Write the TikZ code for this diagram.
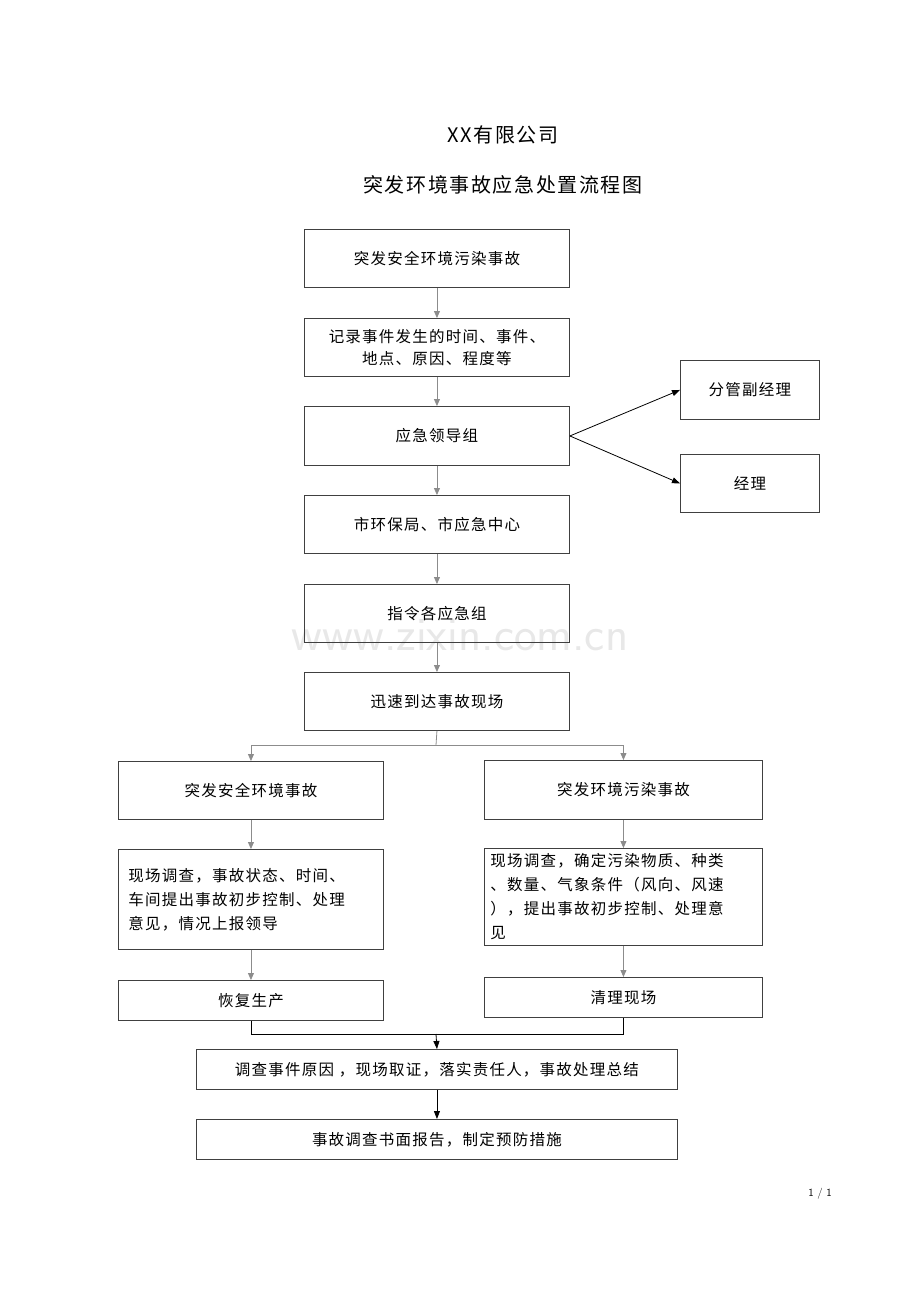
\documentclass[tikz,border=0pt]{standalone}
\usepackage{fontspec}
\newfontfamily\cjk[LetterSpace=8]{Noto Sans CJK SC}
\usetikzlibrary{arrows.meta}
\begin{document}
\begin{tikzpicture}[x=1pt,y=-1pt,
  box/.style={draw=black!75,line width=0.9pt,inner sep=0pt,font=\cjk\fontsize{15.5}{22}\selectfont},
  ga/.style={draw=gray!90,line width=0.8pt,-{Triangle[length=7pt,width=6pt]}},
  ba/.style={draw=black,line width=0.8pt,-{Triangle[length=8pt,width=6pt]}},
  gl/.style={draw=gray!90,line width=0.8pt}]
\useasboundingbox (0,0) rectangle (920,1302);
\newcommand{\bx}[6]{\node[box,minimum width=#3-#2,minimum height=#5-#4,anchor=north west,align=center] (#1) at (#2,#4) {#6};}
\node[font=\cjk\fontsize{20}{24}\selectfont] (t1) at (503,135) {XX有限公司};
\node[font=\cjk\fontsize{20}{24}\selectfont] (t2) at (503,185) {突发环境事故应急处置流程图};
\node[font=\fontsize{48}{50}\selectfont\sffamily,text=gray!18] (wm) at (460,635) {www.zixin.com.cn};
\bx{a1}{304}{569}{229}{287}{突发安全环境污染事故}
\bx{a2}{304}{569}{318}{376}{记录事件发生的时间、事件、\\地点、原因、程度等}
\bx{a3}{304}{569}{406}{465}{应急领导组}
\bx{a4}{304}{569}{495}{553}{市环保局、市应急中心}
\bx{a5}{304}{569}{584}{642}{指令各应急组}
\bx{a6}{304}{569}{672}{730}{迅速到达事故现场}
\bx{m1}{680}{819}{360}{419}{分管副经理}
\bx{m2}{680}{819}{454}{512}{经理}
\bx{l1}{118}{383}{761}{819}{突发安全环境事故}
\bx{r1}{484}{762}{760}{819}{突发环境污染事故}
\node[box,minimum width=265,minimum height=100,anchor=north west,align=left,text width=245,inner xsep=10pt,font=\cjk\fontsize{15.5}{24}\selectfont] (l2) at (118,849) {现场调查，事故状态、时间、\\车间提出事故初步控制、处理\\意见，情况上报领导};
\node[box,minimum width=278,minimum height=97,anchor=north west,align=left,text width=266,inner xsep=6pt,font=\cjk\fontsize{15.5}{24}\selectfont] (r2) at (484,848) {现场调查，确定污染物质、种类\\、数量、气象条件（风向、风速\\），提出事故初步控制、处理意\\见};
\bx{l3}{118}{383}{980}{1020}{恢复生产}
\bx{r3}{484}{762}{977}{1017}{清理现场}
\bx{b1}{196}{677}{1049}{1089}{调查事件原因 ，现场取证，落实责任人，事故处理总结}
\bx{b2}{196}{677}{1119}{1159}{事故调查书面报告，制定预防措施}
\node[font=\fontsize{11}{13}\selectfont\sffamily] (pg) at (820,1194) {1 / 1};
\draw[ga] (a1) -- (a2);
\draw[ga] (a2) -- (a3);
\draw[ga] (a3) -- (a4);
\draw[ga] (a4) -- (a5);
\draw[ga] (a5) -- (a6);
\draw[ba] (a3.east) -- (m1.west);
\draw[ba] (a3.east) -- (m2.west);
\coordinate (s) at (436,745);
\draw[gl] (a6.south) -- (s);
\draw[ga] (s) -| (l1.north);
\draw[ga] (s) -| (r1.north);
\draw[ga] (l1) -- (l2);
\draw[ga] (l2) -- (l3);
\draw[ga] (r1) -- (r2);
\draw[ga] (r2) -- (r3);
\coordinate (j) at (436,1034);
\draw[black,line width=0.8pt] (l3.south) |- (j) -| (r3.south);
\draw[ba] (j) -- (b1.north);
\draw[ba] (b1) -- (b2);
\end{tikzpicture}
\end{document}
